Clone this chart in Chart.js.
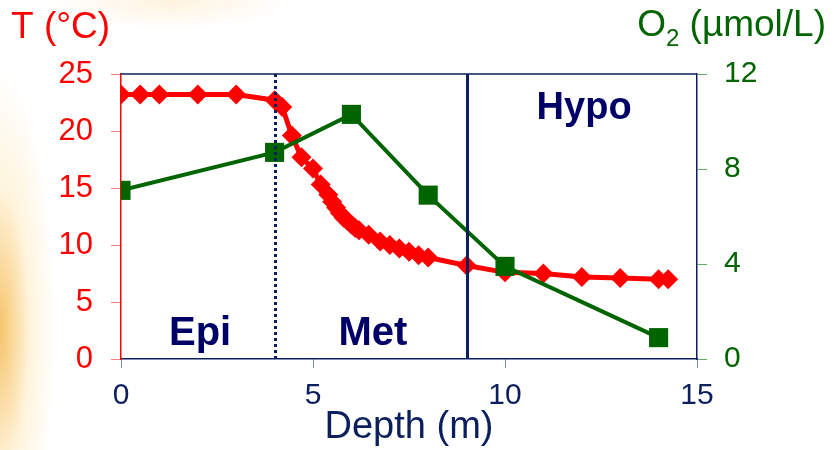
<!DOCTYPE html>
<html>
<head>
<meta charset="utf-8">
<script src="https://cdn.jsdelivr.net/npm/chart.js@4/dist/chart.umd.min.js"></script>
<style>
  html, body { margin: 0; padding: 0; }
  body {
    width: 834px; height: 450px; overflow: hidden;
    background:
      radial-gradient(ellipse 55px 260px at 0px 330px, rgba(245,185,80,0.85), rgba(255,225,160,0.35) 55%, rgba(255,255,255,0) 100%),
      radial-gradient(ellipse 120px 30px at 170px 0px, rgba(255,230,190,0.5), rgba(255,255,255,0) 100%),
      #ffffff;
  }
  #wrap { position: relative; width: 834px; height: 450px; }
</style>
</head>
<body>
<div id="wrap"><canvas id="depthChart" width="834" height="450"></canvas></div>
<script>
// temperature profile (red diamonds)
const depthT = [0, 0.5, 1, 2, 3, 4, 4.2, 4.45, 4.7, 5, 5.2, 5.4, 5.5, 5.6, 5.7, 5.8, 5.9, 6, 6.1, 6.2,
                6.45, 6.75, 7, 7.25, 7.5, 7.75, 8, 9, 10, 11, 12, 13, 14, 14.25];
const temp = [23.2, 23.2, 23.2, 23.2, 23.2, 22.7, 22.1, 19.6, 17.7, 16.7, 15.3, 14.4, 13.8, 13.3, 12.8, 12.4, 12.1, 11.8, 11.5, 11.3,
              10.9, 10.3, 10.0, 9.7, 9.4, 9.1, 8.9, 8.2, 7.6, 7.5, 7.2, 7.1, 7.0, 7.0];

// oxygen profile (green squares)
const depthO2 = [0, 4, 6, 8, 10, 14];
const oxygen = [7.1, 8.7, 10.3, 6.9, 3.9, 0.9];

// layer boundaries and names
const boundaries = [4, 9];
const layerNames = ['Epi', 'Met', 'Hypo'];

const xTicks = [0, 5, 10, 15];
const tTicks = [0, 5, 10, 15, 20, 25];
const o2Ticks = [0, 4, 8, 12];

const FONT = "'Liberation Sans', Arial, sans-serif";
const RED = '#ff0000';
const GREEN = '#006400';
const NAVY = '#0b1f5e';

const setTicks = (arr) => (scale) => { scale.ticks = arr.map(v => ({ value: v })); };

const overlay = {
    id: 'overlay',
    afterDatasetsDraw(chart) {
        const { ctx, chartArea: a, scales } = chart;
        const x = scales.x;
        ctx.save();
        // top border of plot
        ctx.strokeStyle = NAVY;
        ctx.lineWidth = 1.5;
        ctx.beginPath();
        ctx.moveTo(a.left, a.top);
        ctx.lineTo(a.right, a.top);
        ctx.stroke();
        // layer boundaries
        ctx.lineWidth = 3;
        boundaries.forEach((b, i) => {
            const px = Math.round(x.getPixelForValue(b)) + 0.5;
            ctx.setLineDash(i === 0 ? [3, 3] : []);
            ctx.beginPath();
            ctx.moveTo(px, a.top);
            ctx.lineTo(px, a.bottom);
            ctx.stroke();
        });
        ctx.setLineDash([]);
        // layer names
        ctx.fillStyle = '#000066';
        ctx.font = 'bold 40px ' + FONT;
        ctx.textAlign = 'center';
        ctx.textBaseline = 'alphabetic';
        ctx.fillText(layerNames[0], x.getPixelForValue(2.06), 345);
        ctx.fillText(layerNames[1], x.getPixelForValue(6.56), 345);
        ctx.font = 'bold 38px ' + FONT;
        ctx.fillText(layerNames[2], x.getPixelForValue(12.06), 119);
        // axis titles at top
        ctx.textAlign = 'left';
        ctx.fillStyle = RED;
        ctx.font = '37px ' + FONT;
        ctx.fillText('T (°C)', 11, 38);
        ctx.fillStyle = GREEN;
        ctx.textAlign = 'right';
        const rest = ' (µmol/L)';
        ctx.fillText(rest, 826, 36);
        const wRest = ctx.measureText(rest).width;
        ctx.font = '24px ' + FONT;
        ctx.fillText('2', 826 - wRest, 46);
        const w2 = ctx.measureText('2').width;
        ctx.font = '37px ' + FONT;
        ctx.fillText('O', 826 - wRest - w2, 36);
        ctx.restore();
    }
};

const ctx = document.getElementById('depthChart').getContext('2d');
const chart = new Chart(ctx, {
    type: 'line',
    data: {
        datasets: [{
            label: 'O2',
            data: depthO2.map((d, i) => ({ x: d, y: oxygen[i] })),
            yAxisID: 'y2',
            borderColor: GREEN,
            backgroundColor: GREEN,
            borderWidth: 4,
            pointStyle: 'rect',
            pointRadius: 13.5,
            pointBorderWidth: 0,
            order: 0
        }, {
            label: 'T',
            data: depthT.map((d, i) => ({ x: d, y: temp[i] })),
            yAxisID: 'y',
            borderColor: RED,
            backgroundColor: RED,
            borderWidth: 5,
            pointStyle: 'rectRot',
            pointRadius: 10,
            pointBorderWidth: 0,
            order: 1
        }]
    },
    options: {
        responsive: false,
        animation: false,
        layout: { padding: { top: 74, left: 0, right: 0, bottom: 0 } },
        plugins: { legend: { display: false }, tooltip: { enabled: false } },
        scales: {
            x: {
                type: 'linear',
                min: 0, max: 15,
                afterBuildTicks: setTicks(xTicks),
                afterFit: (s) => { s.height = 91; },
                border: { color: NAVY, width: 1.5 },
                grid: { drawOnChartArea: false, drawTicks: true, tickLength: 9, color: '#7c8aad' },
                ticks: { color: NAVY, padding: 10, font: { family: FONT, size: 30 } },
                title: { display: true, text: 'Depth (m)', color: NAVY, padding: { top: 0, bottom: 0 }, font: { family: FONT, size: 38 } }
            },
            y: {
                position: 'left',
                min: 0, max: 25,
                afterBuildTicks: setTicks(tTicks),
                afterFit: (s) => { s.width = 121; },
                border: { color: RED, width: 1.5 },
                grid: { drawOnChartArea: false, drawTicks: true, tickLength: 10, color: '#f08080' },
                ticks: { color: RED, padding: 18, font: { family: FONT, size: 31 } }
            },
            y2: {
                position: 'right',
                min: 0, max: 12,
                afterBuildTicks: setTicks(o2Ticks),
                afterFit: (s) => { s.width = 137; },
                border: { color: NAVY, width: 1.5 },
                grid: { drawOnChartArea: false, drawTicks: true, tickLength: 10, color: '#6aa86a' },
                ticks: { color: GREEN, padding: 17, font: { family: FONT, size: 30 } }
            }
        }
    },
    plugins: [overlay]
});
</script>
</body>
</html>
